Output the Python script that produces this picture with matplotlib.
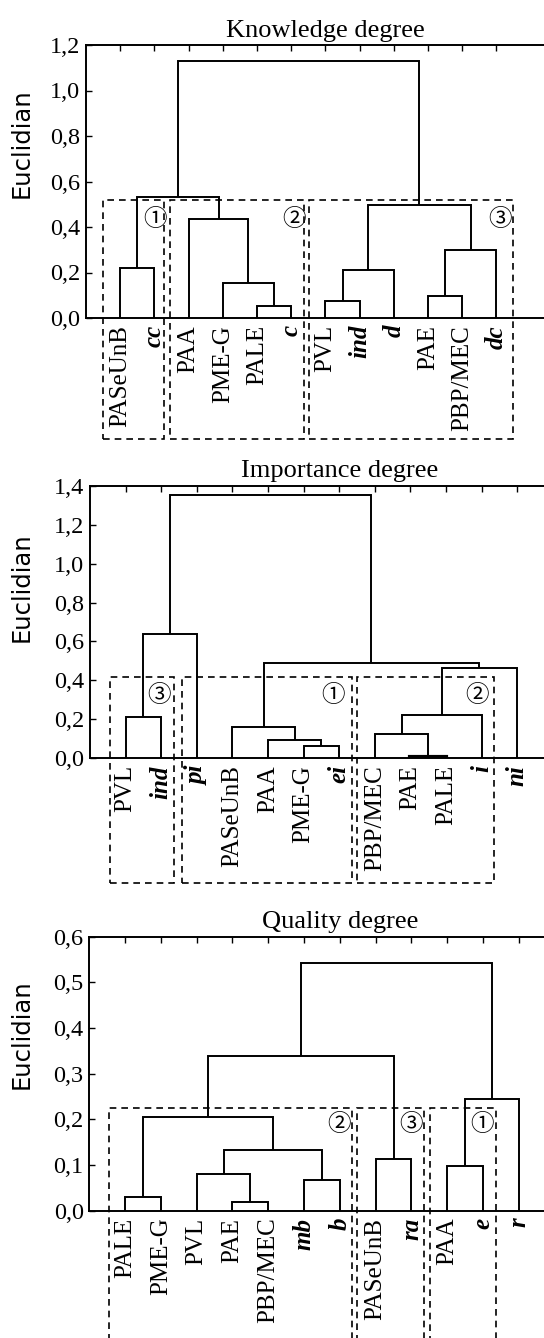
import matplotlib
matplotlib.use("Agg")
import matplotlib.pyplot as plt
from matplotlib.patches import Rectangle

# --- data ---
k_labels = ["PASeUnB", "cc", "PAA", "PME-G", "PALE", "c", "PVL", "ind", "d", "PAE", "PBP/MEC", "dc"]
k_merges = [(0, 1, 0.218), (4, 5, 0.053), (3, 13, 0.155), (2, 14, 0.435), (12, 15, 0.533),
            (6, 7, 0.073), (17, 8, 0.210), (9, 10, 0.098), (19, 11, 0.300), (18, 20, 0.497),
            (16, 21, 1.130)]

i_labels = ["PVL", "ind", "pi", "PASeUnB", "PAA", "PME-G", "ei", "PBP/MEC", "PAE", "PALE", "i", "ni"]
i_merges = [(0, 1, 0.214), (12, 2, 0.637), (5, 6, 0.065), (4, 14, 0.092), (3, 15, 0.162),
            (8, 9, 0.007), (7, 17, 0.126), (18, 10, 0.222), (19, 11, 0.462), (16, 20, 0.490),
            (13, 21, 1.352)]

q_labels = ["PALE", "PME-G", "PVL", "PAE", "PBP/MEC", "mb", "b", "PASeUnB", "ra", "PAA", "e", "r"]
q_merges = [(0, 1, 0.030), (3, 4, 0.019), (2, 13, 0.080), (5, 6, 0.067), (14, 15, 0.132),
            (12, 16, 0.206), (7, 8, 0.113), (17, 18, 0.338), (9, 10, 0.0985), (20, 11, 0.245),
            (19, 21, 0.542)]

# cluster boxes (x range) and their circled numbers
k_boxes = [(0.49, 2.29), (2.46, 6.37), (6.53, 12.48)]
k_marks = ["①", "②", "③"]
i_boxes = [(0.57, 2.35), (2.58, 7.37), (7.51, 11.35)]
i_marks = ["③", "①", "②"]
q_boxes = [(0.56, 7.34), (7.47, 9.35), (9.52, 11.35)]
q_marks = ["②", "③", "①"]

serif = "Liberation Serif"


def dendro(ax, labels, merges, boxes, marks, box_top, box_bot, mark_y, mark_dx, ymax, ystep, title):
    n = len(labels)
    xs = {i: i + 1.0 for i in range(n)}
    hs = {i: 0.0 for i in range(n)}
    for k, (a, b, h) in enumerate(merges):
        ax.plot([xs[a], xs[a], xs[b], xs[b]], [hs[a], h, h, hs[b]], color="black", lw=1.4,
                solid_capstyle="butt", solid_joinstyle="miter")
        xs[n + k] = (xs[a] + xs[b]) / 2
        hs[n + k] = h
    # thick zero-height link
    for a, b, h in merges:
        if h < 0.01:
            ax.plot([xs[a], xs[b]], [h, h], color="black", lw=3)

    for i, lab in enumerate(labels):
        if lab.islower():
            kw = dict(fontweight="bold", fontstyle="italic")
        else:
            kw = {}
        ax.annotate(lab, xy=(i + 1, 0), xycoords=("data", "axes fraction"), xytext=(0, -5),
                    textcoords="offset points", rotation=90, ha="center", va="top",
                    fontsize=18, family=serif, **kw)

    for (x0, x1), m, dx in zip(boxes, marks, mark_dx):
        ax.add_patch(Rectangle((x0, box_bot), x1 - x0, box_top - box_bot, fill=False,
                               ls=(0, (4, 3)), lw=1.2, ec="black", clip_on=False))
        ax.text(x1 - dx, mark_y, m, ha="center", va="center", fontsize=17,
                family=["Noto Sans CJK SC", "DejaVu Sans"])

    ax.set_xlim(0, 14)
    ax.set_ylim(0, ymax)
    nt = int(round(ymax / ystep))
    ticks = [j * ystep for j in range(nt + 1)]
    ax.set_yticks(ticks)
    ax.set_yticklabels([("%.1f" % t).replace(".", ",") for t in ticks], family=serif, fontsize=17.5)
    ax.set_xticks(range(1, n + 1))
    ax.tick_params(axis="x", which="both", bottom=False, top=True, labelbottom=False,
                   direction="in", length=4, width=1)
    ax.tick_params(axis="y", direction="in", length=4, width=1, pad=4)
    for s in ax.spines.values():
        s.set_linewidth(1.4)
    ax.set_title(title, family=serif, fontsize=19, pad=6)


fig = plt.figure(figsize=(5.44, 13.38), dpi=100)
H = 1338.0
W = 544.0

ax1 = fig.add_axes([86 / W, (H - 318) / H, 14 * 34.2 / W, 273 / H])
dendro(ax1, k_labels, k_merges, k_boxes, k_marks, 0.519, -0.532, 0.435,
       [0.26, 0.29, 0.38], 1.2, 0.2, "Knowledge degree")

ax2 = fig.add_axes([90 / W, (H - 758.3) / H, 14 * 35.6 / W, 272.6 / H])
dendro(ax2, i_labels, i_merges, i_boxes, i_marks, 0.419, -0.639, 0.32,
       [0.41, 0.54, 0.49], 1.4, 0.2, "Importance degree")

ax3 = fig.add_axes([89.3 / W, (H - 1210.7) / H, 14 * 35.8 / W, 274 / H])
dendro(ax3, q_labels, q_merges, q_boxes, q_marks, 0.2256, -0.35, 0.188,
       [0.37, 0.37, 0.37], 0.6, 0.1, "Quality degree")

fig.text(22 / W, 1 - 143 / H, "Euclidian", rotation=90, ha="center", va="center",
         fontsize=17.5, family="DejaVu Sans")
fig.text(22 / W, 1 - 587 / H, "Euclidian", rotation=90, ha="center", va="center",
         fontsize=17.5, family="DejaVu Sans")
fig.text(22 / W, 1 - 1034 / H, "Euclidian", rotation=90, ha="center", va="center",
         fontsize=17.5, family="DejaVu Sans")

fig.savefig("out.png", dpi=100)
